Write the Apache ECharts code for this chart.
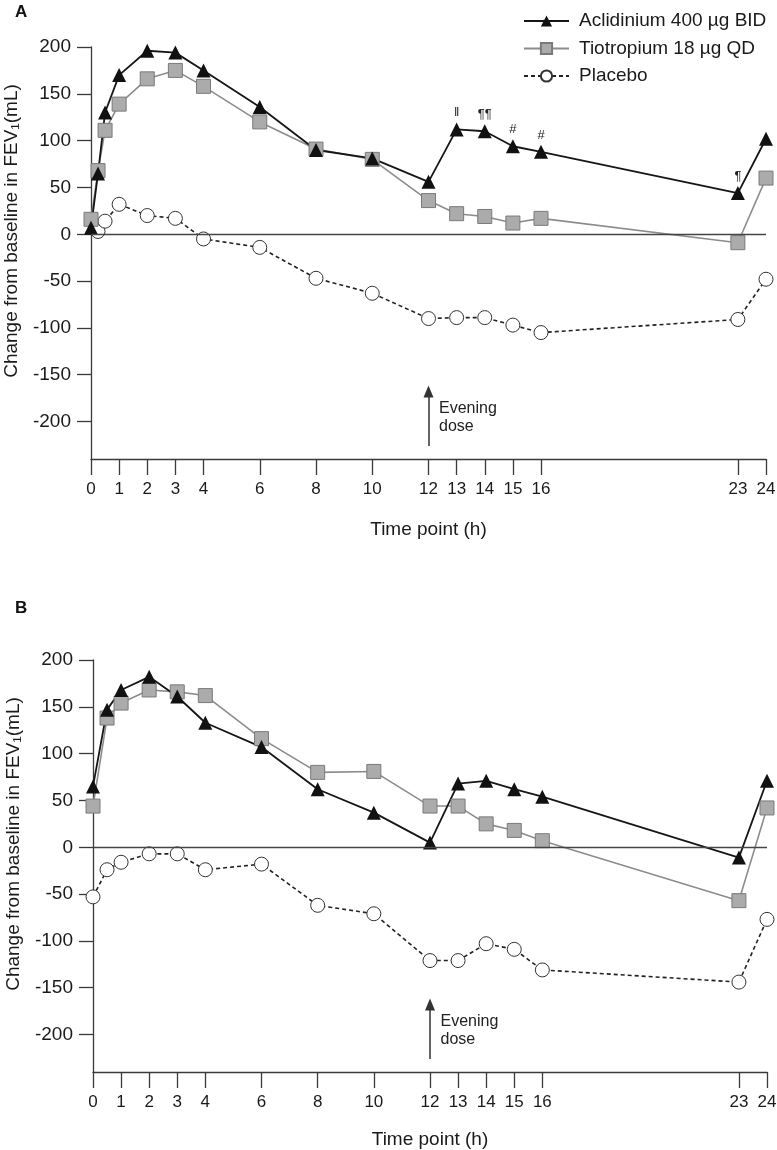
<!DOCTYPE html>
<html>
<head>
<meta charset="utf-8">
<script src="https://cdn.jsdelivr.net/npm/echarts@6/dist/echarts.min.js"></script>
<style>
html,body{margin:0;padding:0;background:#fff;}
#chart{width:777px;height:1150px;}
</style>
</head>
<body>
<div id="chart"></div>
<script>
// ---- data ----
const xTicks = [0, 1, 2, 3, 4, 6, 8, 10, 12, 13, 14, 15, 16, 23, 24];
const yTicks = [-200, -150, -100, -50, 0, 50, 100, 150, 200];

const seriesNames = ['Aclidinium 400 µg BID', 'Tiotropium 18 µg QD', 'Placebo'];

// Panel A
const timesA = [0, 0.25, 0.5, 1, 2, 3, 4, 6, 8, 10, 12, 13, 14, 15, 16, 23, 24];
const aclA = [7, 65, 130, 170, 196, 194, 175, 136, 90, 81, 56, 112, 110, 94, 88, 44, 102];
const tioA = [16, 68, 111, 139, 166, 175, 158, 120, 91, 80, 36, 22, 19, 12, 17, -9, 60];
const timesPboA = [0.25, 0.5, 1, 2, 3, 4, 6, 8, 10, 12, 13, 14, 15, 16, 23, 24];
const pboA = [3, 14, 32, 20, 17, -5, -14, -47, -63, -90, -89, -89, -97, -105, -91, -48];
const annotA = ['', '', '', '', '', '', '', '', '', '', '', '‖', '¶¶', '#', '#', '¶', ''];

// Panel B
const timesB = [0, 0.5, 1, 2, 3, 4, 6, 8, 10, 12, 13, 14, 15, 16, 23, 24];
const aclB = [65, 147, 168, 182, 161, 133, 107, 62, 37, 5, 68, 71, 62, 54, -11, 71];
const tioB = [44, 138, 154, 168, 166, 162, 116, 80, 81, 44, 44, 25, 18, 7, -57, 42];
const pboB = [-53, -24, -16, -7, -7, -24, -18, -62, -71, -121, -121, -103, -109, -131, -144, -77];

const doseTime = 12;
const arrowFrom = -226, arrowTo = -168, doseLabelY = -196;

// ---- helpers ----
const zip = (xs, ys) => xs.map((x, i) => [x, ys[i]]);
const FONT = 'Liberation Sans, Arial, Helvetica, sans-serif';
const AX = '#3a3a3a';

function xAxisCfg(gi, gap) {
  return {
    type: 'value', gridIndex: gi, min: 0, max: 24,
    name: 'Time point (h)', nameLocation: 'middle', nameGap: gap,
    nameTextStyle: {fontFamily: FONT, fontSize: 19, color: '#1a1a1a'},
    axisLine: {onZero: false, lineStyle: {color: AX, width: 1.3}},
    axisTick: {customValues: xTicks, length: 16, lineStyle: {color: AX, width: 1.3}},
    axisLabel: {customValues: xTicks, margin: 22, fontFamily: FONT, fontSize: 17, color: '#1a1a1a', hideOverlap: false},
    splitLine: {show: false}
  };
}
function yAxisCfg(gi) {
  return {
    type: 'value', gridIndex: gi, min: -240, max: 200,
    name: 'Change from baseline in FEV₁(mL)', nameLocation: 'middle', nameGap: 70,
    nameTextStyle: {fontFamily: FONT, fontSize: 19, color: '#1a1a1a', padding: [0, 0, 0, 44]},
    axisLine: {onZero: false, lineStyle: {color: AX, width: 1.3}},
    axisTick: {customValues: yTicks, length: 14, lineStyle: {color: AX, width: 1.3}},
    axisLabel: {customValues: yTicks, margin: 20, fontFamily: FONT, fontSize: 19, color: '#1a1a1a'},
    splitLine: {show: false}
  };
}
function pboSeries(gi, data) {
  return {
    name: seriesNames[2], type: 'line', xAxisIndex: gi, yAxisIndex: gi, data: data,
    symbol: 'circle', symbolSize: 14,
    lineStyle: {color: '#222', width: 1.6, type: [4, 3]},
    itemStyle: {color: '#fff', borderColor: '#333', borderWidth: 1},
    emphasis: {disabled: true},
    markLine: {
      silent: true, symbol: ['none', 'none'], label: {show: false},
      lineStyle: {color: '#444', width: 1.3, type: 'solid'},
      data: [{yAxis: 0}]
    }
  };
}
function tioSeries(gi, data) {
  return {
    name: seriesNames[1], type: 'line', xAxisIndex: gi, yAxisIndex: gi, data: data,
    symbol: 'rect', symbolSize: 14,
    lineStyle: {color: '#8c8c8c', width: 1.6},
    itemStyle: {color: '#ababab', borderColor: '#7a7a7a', borderWidth: 1},
    emphasis: {disabled: true}
  };
}
function aclSeries(gi, data, annot) {
  return {
    name: seriesNames[0], type: 'line', xAxisIndex: gi, yAxisIndex: gi, data: data,
    symbol: 'triangle', symbolSize: 14,
    lineStyle: {color: '#161616', width: 1.8},
    itemStyle: {color: '#111'},
    emphasis: {disabled: true},
    label: {
      show: !!annot, position: 'top', distance: 3,
      fontFamily: FONT, fontSize: 13, color: '#222',
      formatter: p => (annot ? annot[p.dataIndex] : '')
    },
    markLine: {
      silent: true, symbol: ['none', 'triangle'], symbolSize: [10, 12],
      label: {show: false},
      lineStyle: {color: '#333', width: 1.5, type: 'solid'},
      data: [[{coord: [doseTime, arrowFrom]}, {coord: [doseTime, arrowTo]}]]
    },
    markPoint: {
      silent: true, symbol: 'circle', symbolSize: 1,
      itemStyle: {color: 'rgba(0,0,0,0)'},
      label: {
        show: true, position: 'right', distance: 10, formatter: 'Evening\ndose',
        fontFamily: FONT, fontSize: 16, lineHeight: 18, color: '#222', align: 'left'
      },
      data: [{coord: [doseTime, doseLabelY]}]
    }
  };
}

const chart = echarts.init(document.getElementById('chart'), null, {renderer: 'canvas'});
chart.setOption({
  animation: false,
  backgroundColor: '#fff',
  textStyle: {fontFamily: FONT},
  grid: [
    {left: 91, right: 11, top: 47, bottom: 691, containLabel: false, outerBoundsMode: 'none'},
    {left: 93, right: 10, top: 660, bottom: 78, containLabel: false, outerBoundsMode: 'none'}
  ],
  xAxis: [xAxisCfg(0, 61), xAxisCfg(1, 58)],
  yAxis: [yAxisCfg(0), yAxisCfg(1)],
  legend: {
    data: seriesNames, orient: 'vertical', left: 523, top: 11, padding: 0,
    itemWidth: 45, itemHeight: 14, itemGap: 7.5,
    textStyle: {fontFamily: FONT, fontSize: 19, color: '#1a1a1a', lineHeight: 20, padding: [0, 0, 0, 5]},
    selectedMode: false
  },
  graphic: [
    {type: 'text', left: 15, top: 4, style: {text: 'A', fontFamily: FONT, fontSize: 17, fontWeight: 'bold', fill: '#111'}},
    {type: 'text', left: 15, top: 600, style: {text: 'B', fontFamily: FONT, fontSize: 17, fontWeight: 'bold', fill: '#111'}}
  ],
  series: [
    pboSeries(0, zip(timesPboA, pboA)),
    tioSeries(0, zip(timesA, tioA)),
    aclSeries(0, zip(timesA, aclA), annotA),
    pboSeries(1, zip(timesB, pboB)),
    tioSeries(1, zip(timesB, tioB)),
    aclSeries(1, zip(timesB, aclB), null)
  ]
});
</script>
</body>
</html>
